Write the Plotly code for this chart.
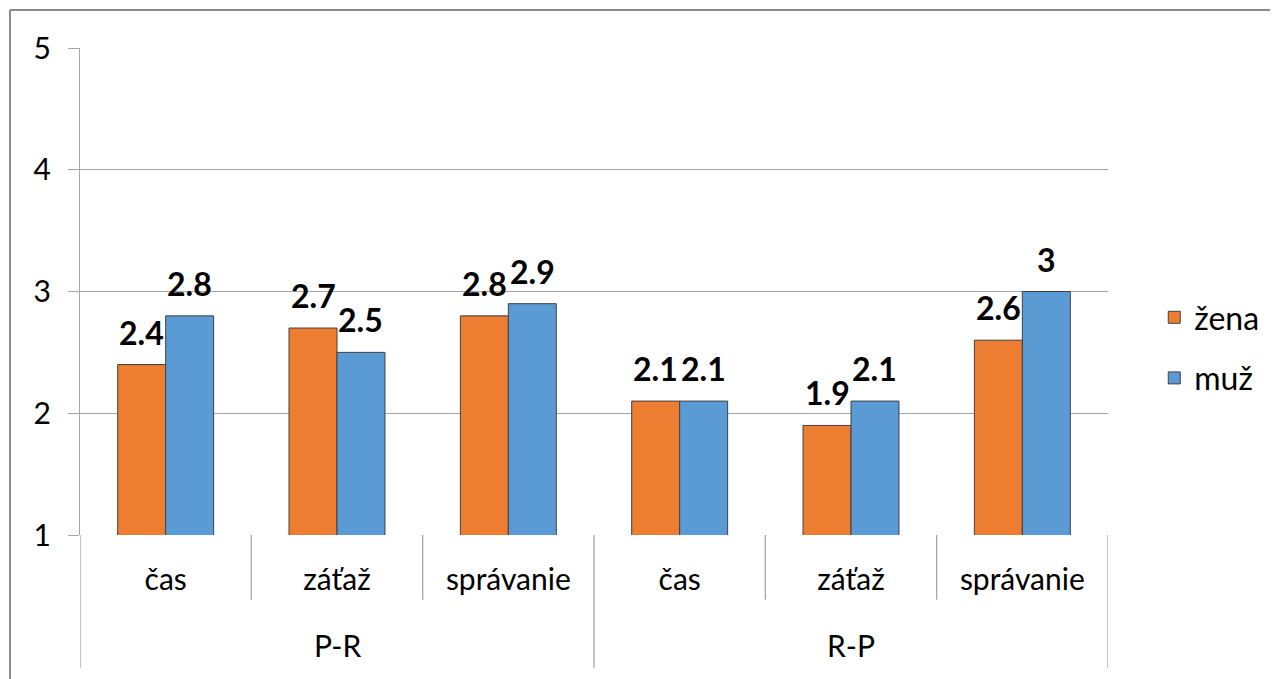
import plotly.graph_objects as go

groups = ["P-R", "R-P"]
subcats = ["čas", "záťaž", "správanie", "čas", "záťaž", "správanie"]
group_of = [0, 0, 0, 1, 1, 1]
zena = [2.4, 2.7, 2.8, 2.1, 1.9, 2.6]
muz = [2.8, 2.5, 2.9, 2.1, 2.1, 3.0]
series_names = ["žena", "muž"]
colors = ["#ED7D31", "#5B9BD5"]
y_ticks = [1, 2, 3, 4, 5]

FONT = "Lato, Carlito, Calibri, sans-serif"
GRID = "#A6A6A6"
BARGAP = 0.44
bar_w = (1 - BARGAP) / 2

xs = list(range(len(subcats)))

fig = go.Figure()
for name, vals, col in zip(series_names, [zena, muz], colors):
    fig.add_trace(go.Bar(
        x=xs, y=vals, name=name, legendgroup=name,
        marker=dict(color=col, line=dict(color="#404040", width=1)),
        base=0,
    ))

annotations = []
for k, vals in enumerate([zena, muz]):
    off = (k - 0.5) * bar_w
    for i, v in enumerate(vals):
        annotations.append(dict(
            x=xs[i] + off, y=v, xref="x", yref="y",
            text="<b>" + f"{v:g}" + "</b>", showarrow=False,
            yanchor="bottom", yshift=11, xanchor="center",
            font=dict(family=FONT, size=32, color="#000000"),
        ))

# group labels
for gi, g in enumerate(groups):
    idx = [i for i in xs if group_of[i] == gi]
    annotations.append(dict(
        x=sum(idx) / len(idx), y=-0.226, xref="x", yref="paper",
        text=g, showarrow=False, yanchor="middle", xanchor="center",
        font=dict(family=FONT, size=30, color="#000000"),
    ))

shapes = []
# divider lines between subcategories / groups
for i in range(len(subcats) + 1):
    xpos = i - 0.5
    is_group_edge = (i == 0 or i == len(subcats) or group_of[i] != group_of[i - 1])
    shapes.append(dict(
        type="line", xref="x", yref="paper", x0=xpos, x1=xpos,
        y0=0, y1=-0.273 if is_group_edge else -0.133,
        line=dict(color=GRID, width=1.3),
    ))
# outer chart border (top and left edges visible)
shapes.append(dict(type="line", xref="paper", yref="paper",
                   x0=-0.0681, x1=1.2, y0=1.078, y1=1.078,
                   line=dict(color="#8C8C8C", width=2)))
shapes.append(dict(type="line", xref="paper", yref="paper",
                   x0=-0.0681, x1=-0.0681, y0=1.078, y1=-0.4,
                   line=dict(color="#8C8C8C", width=2)))

fig.update_layout(
    width=1270, height=671,
    margin=dict(l=72, r=170, t=40, b=144),
    paper_bgcolor="white", plot_bgcolor="white",
    barmode="group", bargap=BARGAP, bargroupgap=0,
    font=dict(family=FONT, size=30, color="#000000"),
    showlegend=True,
    legend=dict(x=1.045, y=0.384, xanchor="left", yanchor="middle",
                font=dict(family=FONT, size=32), tracegroupgap=16,
                itemwidth=30, bgcolor="rgba(0,0,0,0)"),
    annotations=annotations,
    shapes=shapes,
)
fig.update_xaxes(
    range=[-0.5, len(subcats) - 0.5], tickvals=xs, ticktext=subcats,
    showgrid=False, zeroline=False, ticks="", showline=False,
    ticklabelstandoff=24, tickfont=dict(family=FONT, size=30),
)
fig.update_yaxes(
    range=[1, 5], tickvals=y_ticks, showgrid=True, gridcolor=GRID, gridwidth=1.3,
    zeroline=False, showline=True, linecolor=GRID, linewidth=1.3,
    ticks="outside", ticklen=11, tickcolor=GRID, tickwidth=1.3,
    ticklabelstandoff=11, tickfont=dict(family=FONT, size=30),
)

fig.write_html("out.html")
